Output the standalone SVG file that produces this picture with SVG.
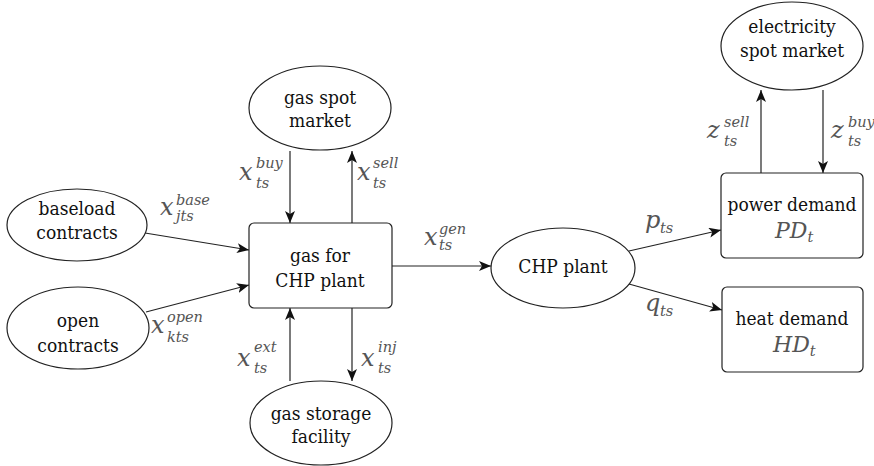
<svg xmlns="http://www.w3.org/2000/svg" width="874" height="466" viewBox="0 0 874 466">
  <defs>
    <marker id="arrow" viewBox="0 0 12 10" refX="12" refY="5" markerWidth="12" markerHeight="10" markerUnits="userSpaceOnUse" orient="auto">
      <path d="M0,0 L12,5 L0,10 L3,5 z" fill="#111"/>
    </marker>
  </defs>
  <style>
    .shape { fill: #fff; stroke: #222; stroke-width: 1.2; }
    .edge { fill: none; stroke: #222; stroke-width: 1.2; marker-end: url(#arrow); }
    .lbl { font-family: 'DejaVu Serif Condensed', 'DejaVu Serif', serif; font-stretch: condensed; font-size: 19px; fill: #111; text-anchor: middle; }
    .m { font-family: 'DejaVu Serif', serif; font-style: italic; font-size: 24px; fill: #555; }
    .md { font-family: 'DejaVu Serif', serif; font-style: italic; font-size: 22px; fill: #555; }
    .s { font-size: 14.5px; }
  </style>
  <rect width="874" height="466" fill="#fff"/>

  <!-- connectors -->
  <g id="connectors">
    <line class="edge" x1="145" y1="233" x2="249" y2="250"/>
    <line class="edge" x1="146" y1="312" x2="249" y2="285"/>
    <line class="edge" x1="290" y1="151" x2="290" y2="223"/>
    <line class="edge" x1="352" y1="223" x2="352" y2="151"/>
    <line class="edge" x1="290" y1="381" x2="290" y2="308"/>
    <line class="edge" x1="352" y1="308" x2="352" y2="381"/>
    <line class="edge" x1="392" y1="266" x2="491" y2="266"/>
    <line class="edge" x1="629" y1="251" x2="721" y2="230"/>
    <line class="edge" x1="629" y1="284" x2="722" y2="310"/>
    <line class="edge" x1="761" y1="173" x2="761" y2="90"/>
    <line class="edge" x1="823" y1="90" x2="823" y2="173"/>
  </g>

  <!-- flow labels -->
  <g id="flow-labels">
    <text class="m" x="160" y="215">x<tspan class="s" x="176" y="205">base</tspan><tspan class="s" x="176" y="221">jts</tspan></text>
    <text class="m" x="151" y="333">x<tspan class="s" x="167" y="322">open</tspan><tspan class="s" x="167" y="342">kts</tspan></text>
    <text class="m" x="239" y="180">x<tspan class="s" x="256" y="168">buy</tspan><tspan class="s" x="256" y="188">ts</tspan></text>
    <text class="m" x="357" y="180">x<tspan class="s" x="373" y="168">sell</tspan><tspan class="s" x="373" y="188">ts</tspan></text>
    <text class="m" x="237" y="366">x<tspan class="s" x="254" y="352">ext</tspan><tspan class="s" x="254" y="373">ts</tspan></text>
    <text class="m" x="361" y="366">x<tspan class="s" x="378" y="352">inj</tspan><tspan class="s" x="378" y="373">ts</tspan></text>
    <text class="m" x="424" y="245">x<tspan class="s" x="439" y="234">gen</tspan><tspan class="s" x="439" y="250">ts</tspan></text>
    <text class="m" x="645" y="228">p<tspan class="s" x="660" y="233">ts</tspan></text>
    <text class="m" x="645" y="311">q<tspan class="s" x="660" y="316">ts</tspan></text>
    <text class="m" x="707" y="138">z<tspan class="s" x="724" y="127">sell</tspan><tspan class="s" x="724" y="146">ts</tspan></text>
    <text class="m" x="831" y="138">z<tspan class="s" x="848" y="127">buy</tspan><tspan class="s" x="848" y="146">ts</tspan></text>
  </g>

  <!-- nodes -->
  <g id="baseload-contracts">
    <ellipse class="shape" cx="77" cy="225" rx="70" ry="36"/>
    <text class="lbl" x="77" y="215">baseload</text>
    <text class="lbl" x="77" y="239">contracts</text>
  </g>
  <g id="open-contracts">
    <ellipse class="shape" cx="78" cy="328" rx="71" ry="41"/>
    <text class="lbl" x="78" y="327">open</text>
    <text class="lbl" x="78" y="352">contracts</text>
  </g>
  <g id="gas-spot-market">
    <ellipse class="shape" cx="320" cy="108" rx="71" ry="42"/>
    <text class="lbl" x="320" y="104">gas spot</text>
    <text class="lbl" x="320" y="127">market</text>
  </g>
  <g id="gas-for-chp">
    <rect class="shape" x="249" y="223" width="143" height="85" rx="5"/>
    <text class="lbl" x="320" y="262">gas for</text>
    <text class="lbl" x="320" y="287">CHP plant</text>
  </g>
  <g id="gas-storage">
    <ellipse class="shape" cx="321" cy="423" rx="71" ry="42"/>
    <text class="lbl" x="321" y="420">gas storage</text>
    <text class="lbl" x="321" y="443">facility</text>
  </g>
  <g id="chp-plant">
    <ellipse class="shape" cx="563" cy="268" rx="72" ry="40"/>
    <text class="lbl" x="563" y="273">CHP plant</text>
  </g>
  <g id="electricity-spot-market">
    <ellipse class="shape" cx="792" cy="46" rx="71" ry="44"/>
    <text class="lbl" x="792" y="33">electricity</text>
    <text class="lbl" x="792" y="57">spot market</text>
  </g>
  <g id="power-demand">
    <rect class="shape" x="721" y="173" width="142" height="85" rx="5"/>
    <text class="lbl" x="792" y="211">power demand</text>
    <text class="md" x="775" y="238">PD<tspan class="s" dy="4">t</tspan></text>
  </g>
  <g id="heat-demand">
    <rect class="shape" x="722" y="287" width="141" height="85" rx="5"/>
    <text class="lbl" x="792" y="325">heat demand</text>
    <text class="md" x="773" y="352">HD<tspan class="s" dy="4">t</tspan></text>
  </g>
</svg>
